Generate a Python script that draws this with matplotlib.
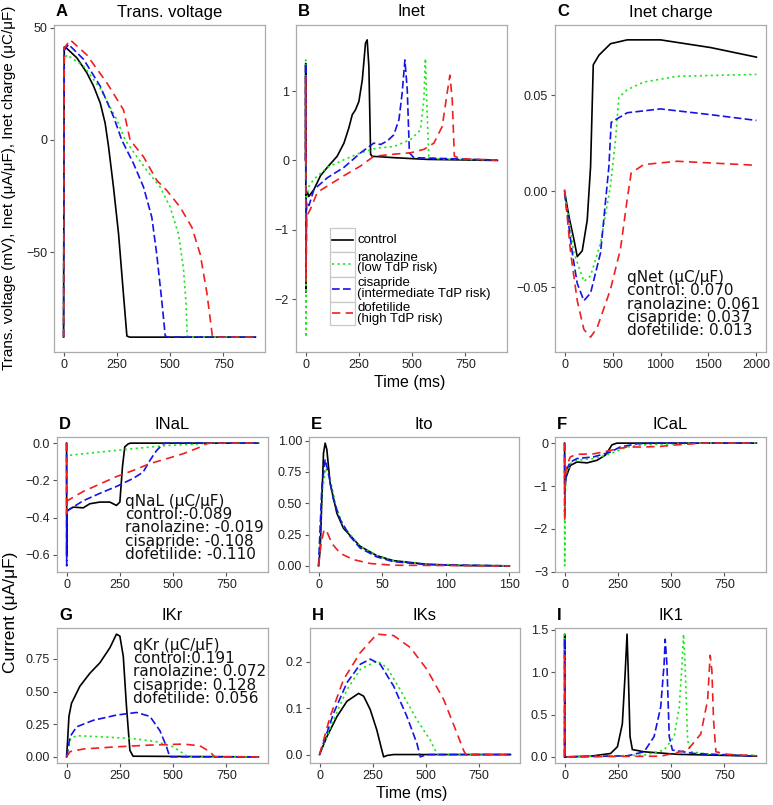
import matplotlib
matplotlib.use("Agg")
import matplotlib.pyplot as plt
from matplotlib.patches import Rectangle
from matplotlib.lines import Line2D
from matplotlib.ticker import FuncFormatter
import numpy as np

# ---- data: (time ms, value) ----
A_CONTROL = [(0, -88), (3, 41.5), (8, 41.5), (62, 36.7), (109, 30), (141, 24), (172, 16.5), (195, 7.5),
             (211, -3), (234, -21), (258, -42), (281, -69), (297, -87.5), (310, -88), (900, -88)]
A_RANO = [(0, -88), (3, 36), (16, 38), (94, 33), (172, 23), (250, 9), (289, 0), (344, -7.5), (390, -13.5),
          (453, -21), (500, -30), (539, -42), (562, -57), (574, -72), (580, -87.5), (592, -88), (900, -88)]
A_CISA = [(0, -88), (3, 40), (23, 42.7), (94, 36), (172, 24), (234, 10.5), (273, 0), (328, -10.5),
          (375, -21), (414, -34.5), (437, -51), (461, -72), (477, -87.5), (490, -88), (900, -88)]
A_DOFE = [(0, -88), (3, 41), (31, 44.7), (109, 38), (203, 25.5), (281, 13.5), (312, 0), (375, -7.5),
          (437, -18), (484, -22.5), (547, -30), (602, -39), (641, -51), (672, -68), (688, -80),
          (698, -87.5), (712, -88), (900, -88)]

B_CONTROL = [(0, 0), (0.5, 1.4), (1.5, -1.9), (3, -0.5), (8, -0.45), (15, -0.52), (39, -0.42), (70, -0.22),
             (102, -0.1), (148, 0.06), (180, 0.25), (203, 0.47), (219, 0.66), (234, 0.73), (250, 0.85),
             (266, 1.16), (281, 1.69), (289, 1.74), (297, 1.35), (305, 0.09), (312, 0.06), (414, 0.04),
             (570, 0.015), (900, 0)]
B_RANO = [(0, 0), (0.5, 1.45), (1.5, -2.55), (4, -0.55), (16, -0.37), (39, -0.27), (102, -0.1), (180, 0.01),
          (258, 0.11), (336, 0.18), (414, 0.2), (492, 0.3), (539, 0.44), (555, 0.88), (562, 1.47),
          (570, 0.7), (578, 0.06), (602, 0.024), (900, 0.005)]
B_CISA = [(0, 0), (0.5, 1.4), (1.5, -1.5), (5, -0.6), (16, -0.65), (39, -0.42), (102, -0.25), (180, -0.1),
          (258, 0.11), (320, 0.25), (352, 0.23), (383, 0.28), (414, 0.37), (438, 0.59), (453, 0.97),
          (466, 1.45), (477, 1.02), (487, 0.11), (508, 0.04), (900, 0.005)]
B_DOFE = [(0, 0), (0.5, 1.2), (1.5, -1.75), (6, -0.8), (23, -0.7), (55, -0.46), (102, -0.37), (180, -0.22),
          (258, -0.08), (320, 0.06), (414, 0.09), (492, 0.11), (555, 0.16), (602, 0.25), (641, 0.49),
          (664, 0.97), (677, 1.23), (688, 0.88), (698, 0.06), (727, 0.024), (900, 0.005)]

C_CONTROL = [(0, 0), (45, -0.013), (97, -0.025), (132, -0.034), (184, -0.031), (236, -0.015), (271, 0.013),
             (299, 0.066), (358, 0.071), (479, 0.077), (653, 0.079), (1000, 0.079), (1521, 0.075),
             (2000, 0.070)]
C_RANO = [(0, 0), (97, -0.032), (201, -0.047), (271, -0.044), (375, -0.027), (479, 0.003), (531, 0.027),
          (566, 0.049), (653, 0.053), (826, 0.057), (1174, 0.060), (2000, 0.061)]
C_CISA = [(0, -0.001), (80, -0.032), (132, -0.048), (201, -0.057), (271, -0.053), (375, -0.032),
          (462, 0.013), (486, 0.036), (653, 0.041), (1000, 0.043), (1521, 0.040), (2000, 0.037)]
C_DOFE = [(0, 0.001), (63, -0.032), (132, -0.057), (201, -0.072), (271, -0.076), (340, -0.071),
          (479, -0.051), (583, -0.030), (653, -0.004), (694, 0.0096), (826, 0.014), (1174, 0.0157),
          (2000, 0.0136)]

D_CONTROL = [(0, 0), (0.5, -0.6), (2, -0.36), (8, -0.36), (31, -0.344), (78, -0.348), (109, -0.326),
             (156, -0.317), (203, -0.317), (234, -0.335), (250, -0.317), (262, -0.129), (273, -0.02),
             (289, -0.004), (300, 0), (900, 0)]
D_RANO = [(0, 0), (0.5, -0.07), (8, -0.066), (156, -0.048), (312, -0.03), (469, -0.013), (625, -0.004),
          (656, 0), (900, 0)]
D_CISA = [(0, 0), (0.5, -0.66), (2, -0.37), (8, -0.36), (78, -0.31), (156, -0.27), (234, -0.233),
          (312, -0.19), (359, -0.156), (391, -0.093), (422, -0.04), (453, -0.004), (469, 0), (900, 0)]
D_DOFE = [(0, 0), (0.5, -0.38), (3, -0.31), (78, -0.26), (156, -0.22), (234, -0.18), (312, -0.147),
          (391, -0.11), (469, -0.084), (547, -0.057), (625, -0.022), (656, -0.004), (672, 0), (900, 0)]

E_CONTROL = [(0, 0), (1.3, 0.13), (2.6, 0.53), (3.9, 0.9), (5.2, 0.98), (6.5, 0.93), (9.1, 0.66),
             (14.4, 0.42), (19.6, 0.30), (32.6, 0.157), (45.7, 0.082), (58.7, 0.042), (84.9, 0.013),
             (111, 0.003), (150, 0)]
E_RANO = [(0, 0), (2.6, 0.58), (5.7, 0.78), (9.1, 0.69), (14.4, 0.45), (19.6, 0.316), (32.6, 0.157),
          (45.7, 0.082), (58.7, 0.04), (85, 0.013), (150, 0)]
E_CISA = [(0, 0), (2.6, 0.63), (5.2, 0.85), (7.8, 0.74), (11.7, 0.53), (17, 0.37), (24.8, 0.236),
          (32.6, 0.143), (45.7, 0.072), (58.7, 0.034), (85, 0.01), (150, 0)]
E_DOFE = [(0, 0), (2, 0.18), (4.4, 0.29), (6.5, 0.276), (10.4, 0.18), (17, 0.10), (27.4, 0.05),
          (40.5, 0.019), (58.7, 0.005), (150, 0)]

F_CONTROL = [(0, 0), (0.5, -1.0), (3, -0.95), (8, -0.78), (27, -0.52), (58, -0.44), (105, -0.46),
             (152, -0.4), (191, -0.28), (206, -0.17), (222, -0.04), (245, 0), (900, 0)]
F_RANO = [(0, 0), (0.5, -2.86), (3, -1.2), (8, -0.71), (27, -0.48), (58, -0.4), (136, -0.36), (214, -0.25),
          (292, -0.09), (370, -0.04), (527, -0.015), (600, 0), (900, 0)]
F_CISA = [(0, 0), (0.5, -1.6), (3, -1.0), (8, -0.63), (27, -0.44), (58, -0.36), (136, -0.32), (214, -0.21),
          (261, -0.09), (339, -0.015), (420, 0), (900, 0)]
F_DOFE = [(0, 0), (0.5, -1.8), (3, -0.9), (8, -0.55), (27, -0.32), (58, -0.26), (136, -0.25), (214, -0.17),
          (292, -0.09), (370, -0.09), (448, -0.077), (527, -0.04), (605, -0.015), (640, 0), (900, 0)]

G_CONTROL = [(0, 0), (5, 0.13), (11, 0.31), (23, 0.41), (62, 0.54), (109, 0.64), (156, 0.72), (203, 0.835),
             (234, 0.94), (250, 0.925), (266, 0.77), (281, 0.386), (297, 0.05), (312, 0.005), (900, 0)]
G_RANO = [(0, 0), (19, 0.14), (47, 0.162), (156, 0.154), (312, 0.14), (422, 0.116), (500, 0.077),
          (547, 0.026), (570, 0), (900, 0)]
G_CISA = [(0, 0), (16, 0.154), (47, 0.23), (125, 0.28), (234, 0.32), (328, 0.34), (391, 0.31), (438, 0.2),
          (469, 0.077), (484, 0), (900, 0)]
G_DOFE = [(0, 0), (16, 0.04), (78, 0.06), (234, 0.077), (391, 0.09), (547, 0.098), (625, 0.085),
          (672, 0.04), (695, 0), (900, 0)]

H_CONTROL = [(0, 0), (35, 0.039), (82, 0.082), (129, 0.115), (184, 0.132), (208, 0.126), (239, 0.097),
             (270, 0.053), (294, 0.009), (302, -0.005), (318, -0.002), (349, 0), (900, 0)]
H_RANO = [(0, 0), (66, 0.075), (129, 0.14), (192, 0.184), (270, 0.202), (318, 0.188), (380, 0.14),
          (459, 0.075), (522, 0.031), (553, 0.002), (569, -0.003), (600, 0), (900, 0)]
H_CISA = [(0, 0), (66, 0.089), (129, 0.155), (192, 0.195), (239, 0.206), (286, 0.195), (349, 0.148),
          (412, 0.082), (459, 0.024), (475, -0.005), (498, -0.001), (520, 0), (900, 0)]
H_DOFE = [(0, 0), (50, 0.082), (113, 0.162), (192, 0.22), (270, 0.26), (349, 0.257), (428, 0.231),
          (506, 0.184), (585, 0.119), (648, 0.046), (679, 0.009), (695, -0.004), (720, 0), (900, 0)]

I_CONTROL = [(0, 0), (0.5, 1.45), (2, 0), (122, 0.008), (216, 0.04), (248, 0.12), (271, 0.39), (284, 0.98),
             (293, 1.45), (299, 0.98), (307, 0.24), (318, 0.086), (373, 0.06), (530, 0.03), (843, 0.012),
             (900, 0.008)]
I_RANO = [(0, 0), (0.5, 1.45), (2, 0), (373, 0.02), (467, 0.08), (514, 0.24), (538, 0.59), (550, 1.06),
          (558, 1.45), (566, 1.06), (577, 0.2), (592, 0.06), (687, 0.03), (900, 0.02)]
I_CISA = [(0, 0), (0.5, 1.4), (2, 0), (295, 0.012), (373, 0.06), (420, 0.24), (451, 0.59), (467, 1.1),
          (472, 1.39), (480, 1.1), (491, 0.24), (506, 0.08), (608, 0.04), (900, 0.008)]
I_DOFE = [(0, 0), (0.5, 1.2), (2, 0), (451, 0.008), (577, 0.08), (639, 0.27), (671, 0.67), (683, 1.2),
          (691, 1.02), (699, 0.43), (710, 0.06), (765, 0.03), (900, 0.012)]

DRUGS = ["control", "ranolazine", "cisapride", "dofetilide"]
RISK = ["", "(low TdP risk)", "(intermediate TdP risk)", "(high TdP risk)"]

TITLES = {"A": "Trans. voltage", "B": "Inet", "C": "Inet charge", "D": "INaL", "E": "Ito",
          "F": "ICaL", "G": "IKr", "H": "IKs", "I": "IK1"}
SERIES = {"A": [A_CONTROL, A_RANO, A_CISA, A_DOFE], "B": [B_CONTROL, B_RANO, B_CISA, B_DOFE],
          "C": [C_CONTROL, C_RANO, C_CISA, C_DOFE], "D": [D_CONTROL, D_RANO, D_CISA, D_DOFE],
          "E": [E_CONTROL, E_RANO, E_CISA, E_DOFE], "F": [F_CONTROL, F_RANO, F_CISA, F_DOFE],
          "G": [G_CONTROL, G_RANO, G_CISA, G_DOFE], "H": [H_CONTROL, H_RANO, H_CISA, H_DOFE],
          "I": [I_CONTROL, I_RANO, I_CISA, I_DOFE]}

X_TICKS = {"C": [0, 500, 1000, 1500, 2000], "E": [0, 50, 100, 150]}
Y_TICKS = {"A": [-50, 0, 50], "B": [-2, -1, 0, 1], "C": [-0.05, 0, 0.05], "D": [-0.6, -0.4, -0.2, 0.0],
           "E": [0, 0.25, 0.5, 0.75, 1.0], "F": [-3, -2, -1, 0], "G": [0, 0.25, 0.5, 0.75],
           "H": [0, 0.1, 0.2], "I": [0, 0.5, 1.0, 1.5]}
Y_FMT = {"A": "%d", "B": "%d", "C": "%.2f", "D": "%.1f", "E": "%.2f", "F": "%d", "G": "%.2f",
         "H": "%.1f", "I": "%.1f"}

NOTES = {
    "C": "qNet (μC/μF)\ncontrol: 0.070\nranolazine: 0.061\ncisapride: 0.037\ndofetilide: 0.013",
    "D": "qNaL (μC/μF)\ncontrol:-0.089\nranolazine: -0.019\ncisapride: -0.108\ndofetilide: -0.110",
    "G": "qKr (μC/μF)\ncontrol:0.191\nranolazine: 0.072\ncisapride: 0.128\ndofetilide: 0.056",
}

# ---- layout (pixels) ----
W, H = 773, 805
BOX = {"A": (54, 25, 265, 352), "B": (296, 25, 507, 352), "C": (555, 25, 766, 352),
       "D": (57, 437, 268, 572), "E": (309, 437, 519, 572), "F": (555, 437, 766, 572),
       "G": (57, 628, 268, 763), "H": (310, 628, 520, 763), "I": (555, 628, 766, 763)}
NOTE_POS = {"C": (627, 304), "D": (125, 528), "G": (133, 672)}

COLORS = ["black", "#1de61d", "#1414e6", "#ee2020"]
DASHES = ["-", (0, (1.3, 2.0)), (0, (4.6, 2.0)), (0, (5.0, 3.2))]

plt.rcParams["font.family"] = "Liberation Sans"


def fmt(pattern):
    return FuncFormatter(lambda v, _: (pattern % v).replace("-", "\u2212"))


fig = plt.figure(figsize=(W / 100, H / 100), dpi=100)

for key, series in SERIES.items():
    l, t, r, b = BOX[key]
    ax = fig.add_axes([l / W, 1 - b / H, (r - l) / W, (b - t) / H])
    for i, pts in enumerate(series):
        arr = np.array(pts)
        ax.plot(arr[:, 0], arr[:, 1], color=COLORS[i], ls=DASHES[i], lw=1.2, zorder=2 + i)
    ax.set_xticks(X_TICKS.get(key, [0, 250, 500, 750]))
    ax.set_yticks(Y_TICKS[key])
    ax.xaxis.set_major_formatter(fmt("%d"))
    ax.yaxis.set_major_formatter(fmt(Y_FMT[key]))
    for s in ax.spines.values():
        s.set_color("#ababab")
        s.set_linewidth(0.9)
    ax.tick_params(length=3, width=0.8, color="#555555", labelsize=9, labelcolor="#222222", pad=2)

    cx = (l + r) / 2 + 10
    ty = t - 13
    fig.text(cx / W, 1 - ty / H, TITLES[key], ha="center", va="center", fontsize=12)
    fig.text((l + 2) / W, 1 - ty / H, key, ha="left", va="center", fontsize=12, fontweight="bold")

    if key in NOTES:
        nx, ny = NOTE_POS[key]
        fig.text(nx / W, 1 - ny / H, NOTES[key], ha="left", va="center", fontsize=11,
                 family="DejaVu Sans", linespacing=0.87, color="#111111")

# axis titles
fig.text(9 / W, 1 - 188 / H, "Trans. voltage (mV), Inet (μA/μF), Inet charge (μC/μF)",
         rotation=90, ha="center", va="center", fontsize=11)
fig.text(11 / W, 1 - 612 / H, "Current (μA/μF)", rotation=90, ha="center", va="center", fontsize=12.5)
fig.text(410 / W, 1 - 382 / H, "Time (ms)", ha="center", va="center", fontsize=11.5)
fig.text(412 / W, 1 - 793 / H, "Time (ms)", ha="center", va="center", fontsize=11.5)

# legend drawn inside panel B (ggplot-style key boxes)
key_edges = [228, 252, 277, 302, 325]
label_y = [240, 263, 288.5, 313.5]
for i, drug in enumerate(DRUGS):
    y0, y1 = key_edges[i], key_edges[i + 1]
    fig.patches.append(Rectangle((330 / W, 1 - y1 / H), 25 / W, (y1 - y0) / H, transform=fig.transFigure,
                                 facecolor="white", edgecolor="#c8c8c8", lw=0.9, zorder=5))
    ym = (y0 + y1) / 2
    fig.lines.append(Line2D([332 / W, 353 / W], [1 - ym / H, 1 - ym / H], transform=fig.transFigure,
                            color=COLORS[i], ls=DASHES[i], lw=1.2, zorder=6))
    label = drug if not RISK[i] else drug + "\n" + RISK[i]
    fig.text(357 / W, 1 - label_y[i] / H, label, ha="left", va="center", fontsize=9.5,
             linespacing=0.85, zorder=6)

fig.savefig("out.png", dpi=100)
